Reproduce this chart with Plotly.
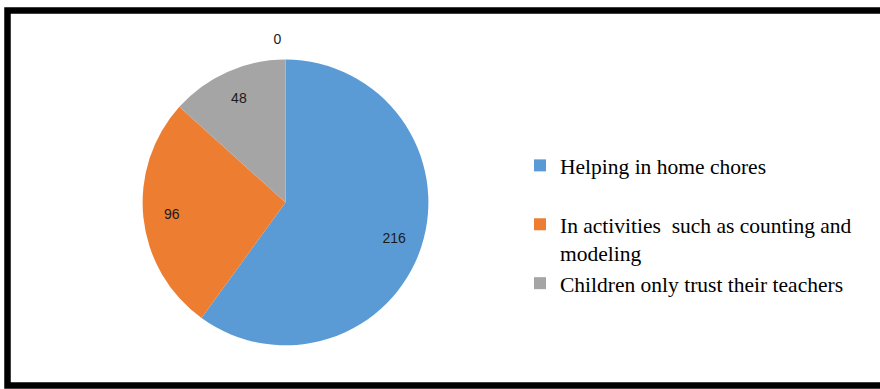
import plotly.graph_objects as go

labels = ["Helping in home chores<br> ",
          "In activities  such as counting and<br>modeling",
          "Children only trust their teachers",
          " "]
values = [216, 96, 48, 0]
colors = ["#5B9BD5", "#ED7D31", "#A5A5A5", "#FFFFFF"]

W, H = 880, 389
cx, cy, r = 285.5, 201, 144
zero_pull = [0, 0, 0, 0.09]


def dom(rad):
    return dict(x=[(cx - rad) / W, (cx + rad) / W], y=[1 - (cy + rad) / H, 1 - (cy - rad) / H])


fig = go.Figure()
# filled pie (carries the legend)
fig.add_trace(go.Pie(
    labels=labels, values=values, sort=False, direction="clockwise", rotation=0,
    marker=dict(colors=colors, line=dict(width=0)),
    textinfo="none", domain=dom(r), showlegend=True, hoverinfo="label+value",
))
# value labels, placed in the outer ring
fig.add_trace(go.Pie(
    labels=labels, values=values, sort=False, direction="clockwise", rotation=0,
    hole=0.6, pull=zero_pull,
    marker=dict(colors=["rgba(0,0,0,0)"] * 4, line=dict(width=0)),
    textinfo="value", textposition=["inside", "inside", "inside", "outside"],
    insidetextorientation="horizontal",
    textfont=dict(family="Liberation Sans", size=14, color="#1a1a1a"),
    domain=dom(r * (1 + max(zero_pull))), showlegend=False, hoverinfo="skip",
))

fig.update_layout(
    width=W, height=H, margin=dict(l=0, r=0, t=0, b=0),
    paper_bgcolor="white", plot_bgcolor="white",
    legend=dict(x=520 / W, y=1 - 143 / H, xanchor="left", yanchor="top",
                valign="top", traceorder="normal",
                font=dict(family="Liberation Serif", size=21.5, color="#000000"),
                bgcolor="rgba(0,0,0,0)"),
    shapes=[dict(type="rect", xref="paper", yref="paper",
                 x0=7.5 / W, x1=1.02, y0=1 - 385.5 / H, y1=1 - 7.5 / H,
                 line=dict(color="black", width=6.5), layer="above")],
)

fig.write_html("out.html")
